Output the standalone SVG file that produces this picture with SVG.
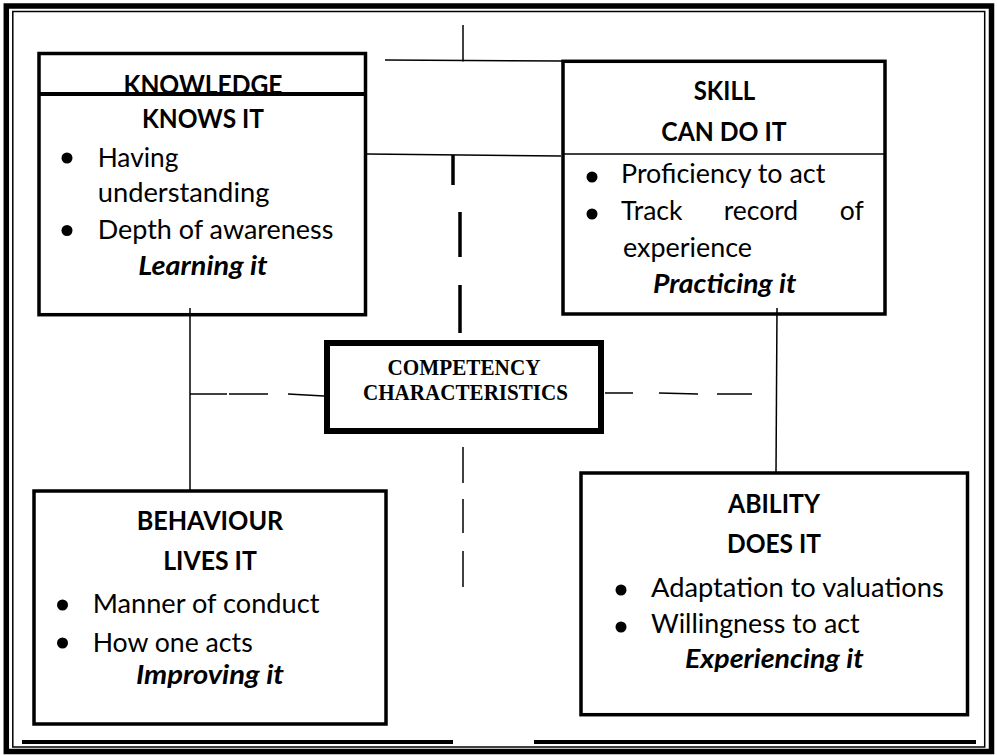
<svg xmlns="http://www.w3.org/2000/svg" width="997" height="755" viewBox="0 0 997 755">
<style>
.frame{fill:none;stroke:#000}
.box{fill:#fff;stroke:#000;stroke-width:3.5}
.t{font-family:Lato,"Open Sans","Liberation Sans",sans-serif;font-size:26.5px;fill:#000}
.m{text-anchor:middle}
.b{font-weight:700}
.bi{font-weight:700;font-style:italic}
.serif{font-family:"Liberation Serif","Times New Roman",serif;font-size:23px;font-weight:700;fill:#000;text-anchor:middle}
.c{stroke:#000;stroke-width:1.5;fill:none}
.ct{stroke:#000;stroke-width:3.5;fill:none}
.dot{fill:#000}
</style>
<rect width="997" height="755" fill="#fff"/>
<g id="frame">
<rect class="frame" x="6.3" y="6" width="985.2" height="745.5" stroke-width="5.5"/>
<rect class="frame" x="12.8" y="11.5" width="971.9" height="735.5" stroke-width="1.5"/>
<line x1="22" y1="742" x2="453" y2="742" stroke="#000" stroke-width="4"/>
<line x1="534" y1="742" x2="976" y2="742" stroke="#000" stroke-width="4"/>
</g>
<g id="knowledge">
<rect class="box" x="39" y="53.5" width="326.5" height="261.2"/>
<text class="t b m" x="203" y="94" textLength="159" lengthAdjust="spacingAndGlyphs">KNOWLEDGE</text>
<line x1="39" y1="94" x2="365.5" y2="94" stroke="#000" stroke-width="4"/>
<text class="t b m" x="203" y="128" textLength="122" lengthAdjust="spacingAndGlyphs">KNOWS IT</text>
<circle class="dot" cx="67" cy="158" r="5.5"/>
<text class="t" x="97.7" y="166.7" textLength="80.7" lengthAdjust="spacingAndGlyphs">Having</text>
<text class="t" x="97.7" y="201.7" textLength="171.7" lengthAdjust="spacingAndGlyphs">understanding</text>
<circle class="dot" cx="67" cy="230.5" r="5.5"/>
<text class="t" x="97.7" y="239" textLength="235.7" lengthAdjust="spacingAndGlyphs">Depth of awareness</text>
<text class="t bi m" x="203" y="275" textLength="129.3" lengthAdjust="spacingAndGlyphs">Learning it</text>
</g>
<g id="skill">
<rect class="box" x="563" y="61.3" width="322" height="252.7" stroke-width="4"/>
<text class="t b m" x="724.5" y="100" textLength="61.6" lengthAdjust="spacingAndGlyphs">SKILL</text>
<text class="t b m" x="724" y="140.7" textLength="125.3" lengthAdjust="spacingAndGlyphs">CAN DO IT</text>
<line x1="563" y1="154" x2="885" y2="154" stroke="#000" stroke-width="1.5"/>
<circle class="dot" cx="592" cy="177" r="5.5"/>
<text class="t" x="621" y="183.3" textLength="204.3" lengthAdjust="spacingAndGlyphs">Proficiency to act</text>
<circle class="dot" cx="592" cy="214" r="5.5"/>
<text class="t" x="621" y="220">Track</text>
<text class="t" x="723.7" y="220">record</text>
<text class="t" x="863.7" y="220" text-anchor="end">of</text>
<text class="t" x="623" y="256.7" textLength="129" lengthAdjust="spacingAndGlyphs">experience</text>
<text class="t bi m" x="724.7" y="292.7" textLength="143.3" lengthAdjust="spacingAndGlyphs">Practicing it</text>
</g>
<g id="competency">
<rect x="327" y="343" width="274" height="88" fill="#fff" stroke="#000" stroke-width="6"/>
<text class="serif" x="464" y="375" textLength="153" lengthAdjust="spacingAndGlyphs">COMPETENCY</text>
<text class="serif" x="465.5" y="400" textLength="205" lengthAdjust="spacingAndGlyphs">CHARACTERISTICS</text>
</g>
<g id="behaviour">
<rect class="box" x="34" y="491" width="352" height="233"/>
<text class="t b m" x="210" y="530" textLength="146.6" lengthAdjust="spacingAndGlyphs">BEHAVIOUR</text>
<text class="t b m" x="210" y="570" textLength="93.7" lengthAdjust="spacingAndGlyphs">LIVES IT</text>
<circle class="dot" cx="62.5" cy="605" r="5.5"/>
<text class="t" x="92.7" y="613.3" textLength="226.7" lengthAdjust="spacingAndGlyphs">Manner of conduct</text>
<circle class="dot" cx="62.5" cy="643" r="5.5"/>
<text class="t" x="92.7" y="651.7" textLength="160" lengthAdjust="spacingAndGlyphs">How one acts</text>
<text class="t bi m" x="210" y="684" textLength="148" lengthAdjust="spacingAndGlyphs">Improving it</text>
</g>
<g id="ability">
<rect class="box" x="581" y="473" width="386.5" height="241.7"/>
<text class="t b m" x="774" y="513.3" textLength="92" lengthAdjust="spacingAndGlyphs">ABILITY</text>
<text class="t b m" x="774" y="553.3" textLength="94" lengthAdjust="spacingAndGlyphs">DOES IT</text>
<circle class="dot" cx="621" cy="590" r="5.5"/>
<text class="t" x="651" y="596.7" textLength="292.7" lengthAdjust="spacingAndGlyphs">Adaptation to valuations</text>
<circle class="dot" cx="621" cy="627" r="5.5"/>
<text class="t" x="651" y="633.3" textLength="208.7" lengthAdjust="spacingAndGlyphs">Willingness to act</text>
<text class="t bi m" x="774.3" y="668.3" textLength="178.7" lengthAdjust="spacingAndGlyphs">Experiencing it</text>
</g>
<g id="connectors">
<line class="c" x1="385" y1="60" x2="562" y2="61"/>
<line class="c" x1="463" y1="25" x2="463" y2="61.6"/>
<line class="c" x1="367" y1="154" x2="561" y2="156"/>
<line class="ct" x1="453" y1="155" x2="453" y2="185"/>
<line class="ct" x1="460" y1="212" x2="460" y2="257"/>
<line class="ct" x1="460" y1="285" x2="460" y2="333"/>
<line class="c" x1="190" y1="308" x2="190" y2="491"/>
<line class="c" x1="190" y1="394" x2="227" y2="394"/>
<line class="c" x1="229" y1="394" x2="268" y2="394"/>
<line class="c" x1="288" y1="394" x2="324" y2="396"/>
<line class="c" x1="605" y1="393" x2="633" y2="393"/>
<line class="c" x1="659" y1="393" x2="698" y2="394"/>
<line class="c" x1="717" y1="394" x2="752" y2="394"/>
<line class="c" x1="777" y1="308" x2="776" y2="473"/>
<line class="c" x1="463" y1="447" x2="463" y2="483"/>
<line class="c" x1="463" y1="499" x2="463" y2="533"/>
<line class="c" x1="463" y1="551" x2="463" y2="587"/>
</g>
</svg>
